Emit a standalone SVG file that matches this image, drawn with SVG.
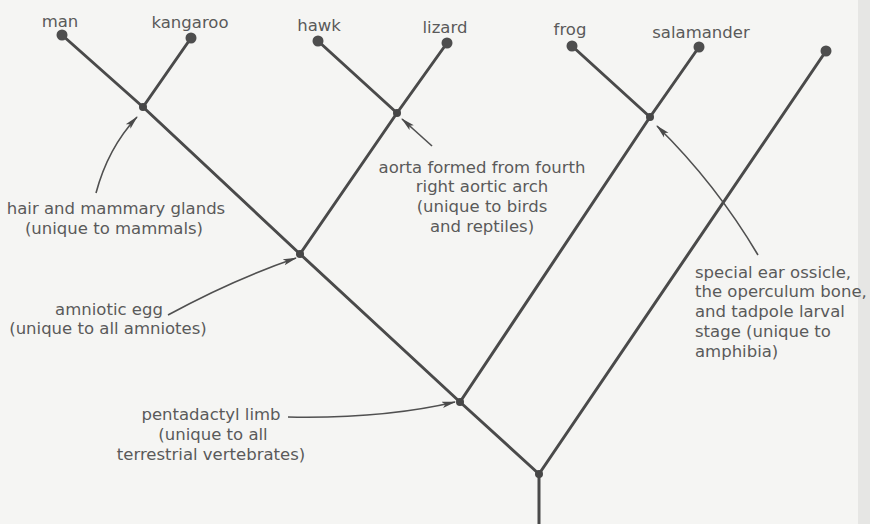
<svg xmlns="http://www.w3.org/2000/svg" width="870" height="524" viewBox="0 0 870 524">
  <defs>
    <style>
      .branch { stroke: #4a4a4a; stroke-width: 3; fill: none; stroke-linecap: round; }
      .pointer { stroke: #505050; stroke-width: 1.6; fill: none; marker-end: url(#tip); }
      .leaf { fill: #4e4e4e; }
      .fork { fill: #474747; }
      .lbl { font-family: "DejaVu Sans", "Liberation Sans", sans-serif; font-size: 16.5px; fill: #5a5a5a; }
      .mid { text-anchor: middle; }
    </style>
    <marker id="tip" viewBox="0 0 14 8" refX="13" refY="4" markerWidth="14" markerHeight="8" markerUnits="userSpaceOnUse" orient="auto">
      <path d="M0,0.8 L14,4 L0,7.2 L3,4 Z" fill="#4a4a4a"/>
    </marker>
  </defs>

  <!-- paper -->
  <rect width="870" height="524" fill="#f5f5f3"/>
  <rect x="858" y="0" width="12" height="524" fill="#e6e6e4"/>

  <!-- branches of the tree -->
  <g id="connectors">
    <!-- main stem: man lineage down to root -->
    <line class="branch" x1="62" y1="35" x2="143" y2="107"/>
    <line class="branch" x1="143" y1="107" x2="300" y2="254"/>
    <line class="branch" x1="300" y1="254" x2="460" y2="402"/>
    <line class="branch" x1="460" y1="402" x2="539" y2="474"/>
    <line class="branch" x1="539" y1="474" x2="539" y2="524"/>
    <!-- kangaroo -->
    <line class="branch" x1="191" y1="38" x2="143" y2="107"/>
    <!-- birds and reptiles -->
    <line class="branch" x1="318" y1="41" x2="397" y2="113"/>
    <line class="branch" x1="447" y1="43" x2="397" y2="113"/>
    <line class="branch" x1="397" y1="113" x2="300" y2="254"/>
    <!-- amphibians -->
    <line class="branch" x1="572" y1="46" x2="650" y2="117"/>
    <line class="branch" x1="699" y1="47" x2="650" y2="117"/>
    <line class="branch" x1="650" y1="117" x2="460" y2="402"/>
    <!-- outgroup -->
    <line class="branch" x1="826" y1="51" x2="539" y2="474"/>

    <!-- annotation pointers -->
    <path class="pointer" d="M96,193 Q108,148 137,117"/>
    <path class="pointer" d="M432,146 L402,119"/>
    <path class="pointer" d="M168,315 Q232,280 296,258"/>
    <path class="pointer" d="M758,255 Q716,184 657,126"/>
    <path class="pointer" d="M288,417 C340,418 400,415 455,402"/>
  </g>

  <!-- tips -->
  <g id="man"><circle class="leaf" cx="62" cy="35" r="5.5"/><text class="lbl mid" x="60" y="27">man</text></g>
  <g id="kangaroo"><circle class="leaf" cx="191" cy="38" r="5.5"/><text class="lbl mid" x="190" y="28">kangaroo</text></g>
  <g id="hawk"><circle class="leaf" cx="318" cy="41" r="5.5"/><text class="lbl mid" x="319" y="31">hawk</text></g>
  <g id="lizard"><circle class="leaf" cx="447" cy="43" r="5.5"/><text class="lbl mid" x="445" y="33">lizard</text></g>
  <g id="frog"><circle class="leaf" cx="572" cy="46" r="5.5"/><text class="lbl mid" x="570" y="35">frog</text></g>
  <g id="salamander"><circle class="leaf" cx="699" cy="47" r="5.5"/><text class="lbl mid" x="701" y="38">salamander</text></g>
  <g id="outgroup"><circle class="leaf" cx="826" cy="51" r="5.5"/></g>

  <!-- branching points -->
  <g id="mammals"><circle class="fork" cx="143" cy="107" r="4"/></g>
  <g id="birds-reptiles"><circle class="fork" cx="397" cy="113" r="4"/></g>
  <g id="amphibia"><circle class="fork" cx="650" cy="117" r="4"/></g>
  <g id="amniotes"><circle class="fork" cx="300" cy="254" r="4"/></g>
  <g id="tetrapods"><circle class="fork" cx="460" cy="402" r="4"/></g>
  <g id="root"><circle class="fork" cx="539" cy="474" r="4"/></g>

  <!-- character notes -->
  <g id="note-mammals" class="lbl mid">
    <text x="116" y="214">hair and mammary glands</text>
    <text x="114" y="234">(unique to mammals)</text>
  </g>
  <g id="note-birds-reptiles" class="lbl mid">
    <text x="482" y="173">aorta formed from fourth</text>
    <text x="482" y="192">right aortic arch</text>
    <text x="482" y="212">(unique to birds</text>
    <text x="482" y="232">and reptiles)</text>
  </g>
  <g id="note-amniotes" class="lbl mid">
    <text x="109" y="315">amniotic egg</text>
    <text x="108" y="334">(unique to all amniotes)</text>
  </g>
  <g id="note-tetrapods" class="lbl mid">
    <text x="211" y="420">pentadactyl limb</text>
    <text x="213" y="440">(unique to all</text>
    <text x="211" y="460">terrestrial vertebrates)</text>
  </g>
  <g id="note-amphibia" class="lbl">
    <text x="695" y="278">special ear ossicle,</text>
    <text x="695" y="297">the operculum bone,</text>
    <text x="695" y="317">and tadpole larval</text>
    <text x="695" y="337">stage (unique to</text>
    <text x="695" y="357">amphibia)</text>
  </g>
</svg>
